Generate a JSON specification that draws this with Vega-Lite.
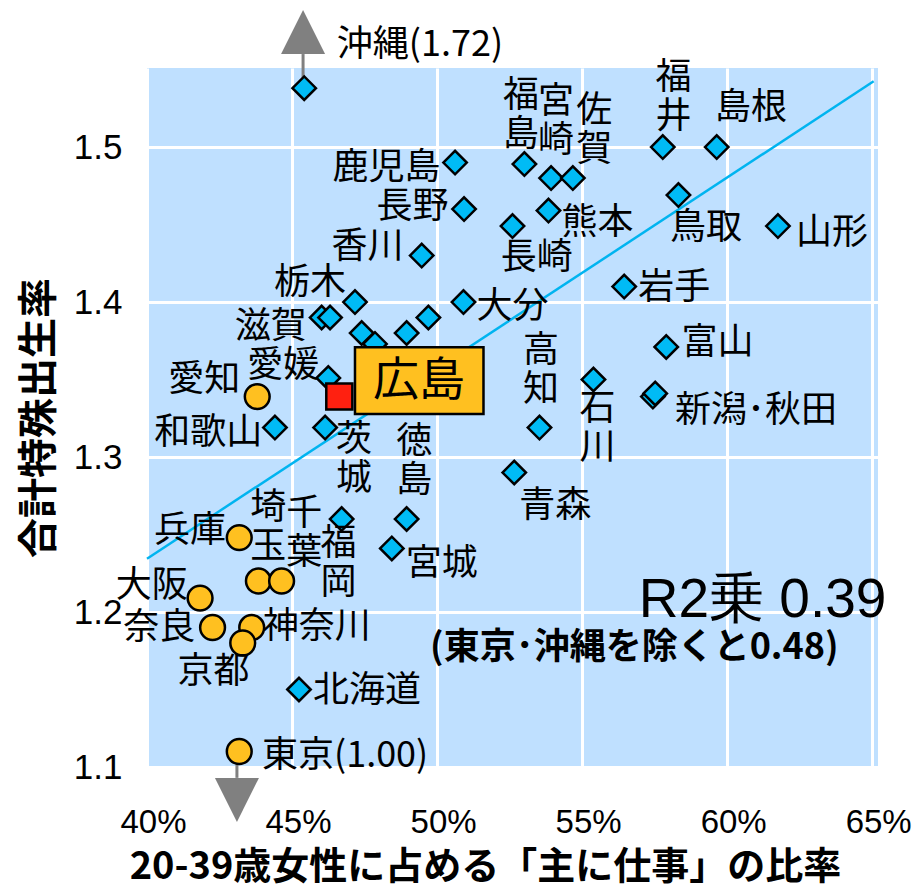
{
  "$schema": "https://vega.github.io/schema/vega-lite/v6.json",
  "width": 731,
  "height": 699,
  "autosize": {"type": "none"},
  "padding": {"left": 147, "top": 68, "right": 34, "bottom": 126},
  "config": {
    "view": {"fill": "#BFE0FF", "stroke": null},
    "font": "Noto Sans CJK JP",
    "text": {"font": "Noto Sans CJK JP"}
  },
  "resolve": {"scale": {"shape": "independent", "fill": "independent", "size": "independent"}},
  "datasets": {
    "points": [
      {"name": "沖縄", "type": "県", "x": 45.42, "y": 1.538},
      {"name": "鹿児島", "type": "県", "x": 50.62, "y": 1.49},
      {"name": "長野", "type": "県", "x": 50.93, "y": 1.46},
      {"name": "香川", "type": "県", "x": 49.47, "y": 1.43},
      {"name": "栃木", "type": "県", "x": 47.17, "y": 1.40},
      {"name": "滋賀", "type": "県", "x": 46.02, "y": 1.39},
      {"name": "岐阜", "type": "県", "x": 46.31, "y": 1.39},
      {"name": "群馬", "type": "県", "x": 47.40, "y": 1.38},
      {"name": "静岡", "type": "県", "x": 47.86, "y": 1.373},
      {"name": "山口", "type": "県", "x": 48.95, "y": 1.38},
      {"name": "岡山", "type": "県", "x": 49.70, "y": 1.39},
      {"name": "大分", "type": "県", "x": 50.91, "y": 1.40},
      {"name": "愛媛", "type": "県", "x": 46.25, "y": 1.351},
      {"name": "和歌山", "type": "県", "x": 44.41, "y": 1.319},
      {"name": "茨城", "type": "県", "x": 46.14, "y": 1.319},
      {"name": "青森", "type": "県", "x": 52.66, "y": 1.29},
      {"name": "福岡", "type": "県", "x": 46.71, "y": 1.26},
      {"name": "徳島", "type": "県", "x": 48.95, "y": 1.26},
      {"name": "宮城", "type": "県", "x": 48.44, "y": 1.241},
      {"name": "北海道", "type": "県", "x": 45.24, "y": 1.15},
      {"name": "福島", "type": "県", "x": 53.01, "y": 1.489},
      {"name": "宮崎", "type": "県", "x": 53.93, "y": 1.48},
      {"name": "佐賀", "type": "県", "x": 54.68, "y": 1.48},
      {"name": "熊本", "type": "県", "x": 53.84, "y": 1.459},
      {"name": "長崎", "type": "県", "x": 52.60, "y": 1.449},
      {"name": "福井", "type": "県", "x": 57.78, "y": 1.50},
      {"name": "島根", "type": "県", "x": 59.64, "y": 1.50},
      {"name": "鳥取", "type": "県", "x": 58.32, "y": 1.469},
      {"name": "山形", "type": "県", "x": 61.75, "y": 1.449},
      {"name": "岩手", "type": "県", "x": 56.45, "y": 1.41},
      {"name": "富山", "type": "県", "x": 57.90, "y": 1.371},
      {"name": "石川", "type": "県", "x": 55.39, "y": 1.35},
      {"name": "新潟", "type": "県", "x": 57.44, "y": 1.339},
      {"name": "秋田", "type": "県", "x": 57.52, "y": 1.341},
      {"name": "高知", "type": "県", "x": 53.53, "y": 1.319},
      {"name": "愛知", "type": "都市圏", "x": 43.80, "y": 1.339},
      {"name": "兵庫", "type": "都市圏", "x": 43.18, "y": 1.248},
      {"name": "埼玉", "type": "都市圏", "x": 43.84, "y": 1.22},
      {"name": "千葉", "type": "都市圏", "x": 44.64, "y": 1.22},
      {"name": "大阪", "type": "都市圏", "x": 41.83, "y": 1.209},
      {"name": "奈良", "type": "都市圏", "x": 42.26, "y": 1.19},
      {"name": "神奈川", "type": "都市圏", "x": 43.61, "y": 1.19},
      {"name": "京都", "type": "都市圏", "x": 43.30, "y": 1.18},
      {"name": "東京", "type": "都市圏", "x": 43.18, "y": 1.11},
      {"name": "広島", "type": "広島", "x": 46.63, "y": 1.339}
    ],
    "labels": [
      {"text": "沖縄(1.72)", "x": 49.41, "y": 1.5658},
      {"text": "鹿児島", "x": 48.26, "y": 1.4868},
      {"text": "長野", "x": 49.155, "y": 1.461},
      {"text": "香川", "x": 47.60, "y": 1.4357},
      {"text": "栃木", "x": 45.62, "y": 1.412},
      {"text": "滋賀", "x": 44.27, "y": 1.384},
      {"text": "愛媛", "x": 44.70, "y": 1.359},
      {"text": "愛知", "x": 41.97, "y": 1.3497},
      {"text": "和歌山", "x": 42.11, "y": 1.3153},
      {"text": "宮城", "x": 50.16, "y": 1.2309},
      {"text": "兵庫", "x": 41.48, "y": 1.2524},
      {"text": "大阪", "x": 40.16, "y": 1.2169},
      {"text": "奈良", "x": 40.42, "y": 1.1895},
      {"text": "神奈川", "x": 45.85, "y": 1.1905},
      {"text": "京都", "x": 42.29, "y": 1.161},
      {"text": "北海道", "x": 47.58, "y": 1.1492},
      {"text": "東京(1.00)", "x": 46.83, "y": 1.1072},
      {"text": "島根", "x": 60.82, "y": 1.5255},
      {"text": "熊本", "x": 55.53, "y": 1.4513},
      {"text": "長崎", "x": 53.44, "y": 1.4282},
      {"text": "鳥取", "x": 59.27, "y": 1.4475},
      {"text": "山形", "x": 63.61, "y": 1.4448},
      {"text": "岩手", "x": 58.18, "y": 1.4088},
      {"text": "富山", "x": 59.67, "y": 1.3733},
      {"text": "新潟･秋田", "x": 60.99, "y": 1.3298},
      {"text": "青森", "x": 54.07, "y": 1.2685},
      {"text": "大分", "x": 52.60, "y": 1.3965}
    ],
    "labels2": [
      {"text": "茨\n城", "x": 47.14, "y": 1.2986},
      {"text": "徳\n島", "x": 49.21, "y": 1.2975},
      {"text": "埼\n玉", "x": 44.18, "y": 1.255},
      {"text": "千\n葉", "x": 45.42, "y": 1.2508},
      {"text": "福\n岡", "x": 46.60, "y": 1.2314},
      {"text": "福\n島", "x": 52.89, "y": 1.5206},
      {"text": "宮\n崎", "x": 54.10, "y": 1.5169},
      {"text": "佐\n賀", "x": 55.42, "y": 1.511},
      {"text": "福\n井", "x": 58.15, "y": 1.5323},
      {"text": "石\n川", "x": 55.53, "y": 1.3185},
      {"text": "高\n知", "x": 53.58, "y": 1.3561}
    ],
    "fit": [
      {"x": 40.0, "y": 1.2344},
      {"x": 65.05, "y": 1.5424}
    ],
    "arrows": [
      {"dir": "up", "x": 45.38, "y": 1.5742, "from": 1.538, "to": 1.56},
      {"dir": "down", "x": 43.1, "y": 1.0787, "from": 1.11, "to": 1.093}
    ],
    "box": [
      {"x": 47.17, "x2": 51.6, "y": 1.3277, "y2": 1.3708, "text": "広島", "cx": 49.38, "cy": 1.3492}
    ],
    "notes": [
      {"x": 61.22, "y": 1.2077, "text": "R2乗 0.39"}
    ],
    "notes2": [
      {"x": 56.8, "y": 1.1771, "text": "(東京･沖縄を除くと0.48)"}
    ]
  },
  "encoding": {
    "x": {
      "field": "x",
      "type": "quantitative",
      "scale": {"domain": [40, 65.2], "nice": false, "zero": false},
      "axis": {
        "values": [40, 45, 50, 55, 60, 65],
        "labelExpr": "datum.value + '%'",
        "labelFlush": false,
        "labelOverlap": false,
        "grid": true,
        "gridColor": "#FFFFFF",
        "gridWidth": 3,
        "domain": false,
        "ticks": false,
        "labelFont": "Liberation Sans",
        "labelFontSize": 33,
        "labelColor": "#000000",
        "labelPadding": 39,
        "labelOffset": 6,
        "title": "20-39歳女性に占める「主に仕事」の比率",
        "titleFont": "Noto Sans CJK JP",
        "titleFontWeight": "bold",
        "titleFontSize": 38,
        "titleColor": "#000000",
        "titlePadding": 9,
        "titleX": 338
      }
    },
    "y": {
      "field": "y",
      "type": "quantitative",
      "scale": {"domain": [1.1, 1.551], "nice": false, "zero": false},
      "axis": {
        "values": [1.1, 1.2, 1.3, 1.4, 1.5],
        "format": ".1f",
        "grid": true,
        "gridColor": "#FFFFFF",
        "gridWidth": 3,
        "domain": false,
        "ticks": false,
        "labelFont": "Liberation Sans",
        "labelFontSize": 35,
        "labelColor": "#000000",
        "labelPadding": 25,
        "title": "合計特殊出生率",
        "titleFont": "Noto Sans CJK JP",
        "titleFontWeight": "bold",
        "titleFontSize": 40,
        "titleColor": "#000000",
        "titlePadding": 14
      }
    }
  },
  "layer": [
    {
      "data": {"name": "fit"},
      "mark": {"type": "line", "stroke": "#00B4F0", "strokeWidth": 2.5, "clip": false},
      "encoding": {}
    },
    {
      "data": {"name": "arrows"},
      "mark": {"type": "rule", "stroke": "#808080", "strokeWidth": 3},
      "encoding": {
        "y": {"field": "from", "type": "quantitative"},
        "y2": {"field": "to"}
      }
    },
    {
      "data": {"name": "arrows"},
      "mark": {"type": "point", "filled": true, "color": "#808080", "opacity": 1, "size": 1936},
      "encoding": {
        "shape": {
          "field": "dir",
          "type": "nominal",
          "scale": {"domain": ["up", "down"], "range": ["M0,-1L1,1L-1,1Z", "M0,1L1,-1L-1,-1Z"]},
          "legend": null
        }
      }
    },
    {
      "data": {"name": "points"},
      "mark": {"type": "point", "filled": true, "opacity": 1, "stroke": "#000000", "strokeWidth": 2.5},
      "encoding": {
        "shape": {
          "field": "type",
          "type": "nominal",
          "scale": {"domain": ["県", "都市圏", "広島"], "range": ["diamond", "circle", "square"]},
          "legend": null
        },
        "fill": {
          "field": "type",
          "type": "nominal",
          "scale": {"domain": ["県", "都市圏", "広島"], "range": ["#00BBF5", "#FFC020", "#FF2010"]},
          "legend": null
        },
        "size": {
          "field": "type",
          "type": "nominal",
          "scale": {"domain": ["県", "都市圏", "広島"], "range": [550, 680, 650]},
          "legend": null
        }
      }
    },
    {
      "data": {"name": "labels"},
      "mark": {"type": "text", "fontSize": 36, "color": "#000000", "align": "center", "baseline": "middle"},
      "encoding": {"text": {"field": "text"}}
    },
    {
      "data": {"name": "labels2"},
      "mark": {"type": "text", "fontSize": 36, "color": "#000000", "align": "center", "baseline": "middle", "lineBreak": "\n", "lineHeight": 39, "dy": -19},
      "encoding": {"text": {"field": "text"}}
    },
    {
      "data": {"name": "box"},
      "mark": {"type": "rect", "fill": "#FFC020", "stroke": "#000000", "strokeWidth": 2.5},
      "encoding": {
        "x2": {"field": "x2"},
        "y2": {"field": "y2"}
      }
    },
    {
      "data": {"name": "box"},
      "mark": {"type": "text", "fontSize": 46, "color": "#000000", "align": "center", "baseline": "middle"},
      "encoding": {
        "x": {"field": "cx", "type": "quantitative"},
        "y": {"field": "cy", "type": "quantitative"},
        "text": {"field": "text"}
      }
    },
    {
      "data": {"name": "notes"},
      "mark": {"type": "text", "fontSize": 55, "font": "Liberation Sans", "color": "#000000", "align": "center", "baseline": "middle"},
      "encoding": {"text": {"field": "text"}}
    },
    {
      "data": {"name": "notes2"},
      "mark": {"type": "text", "fontSize": 36, "fontWeight": "bold", "color": "#000000", "align": "center", "baseline": "middle"},
      "encoding": {"text": {"field": "text"}}
    }
  ]
}
